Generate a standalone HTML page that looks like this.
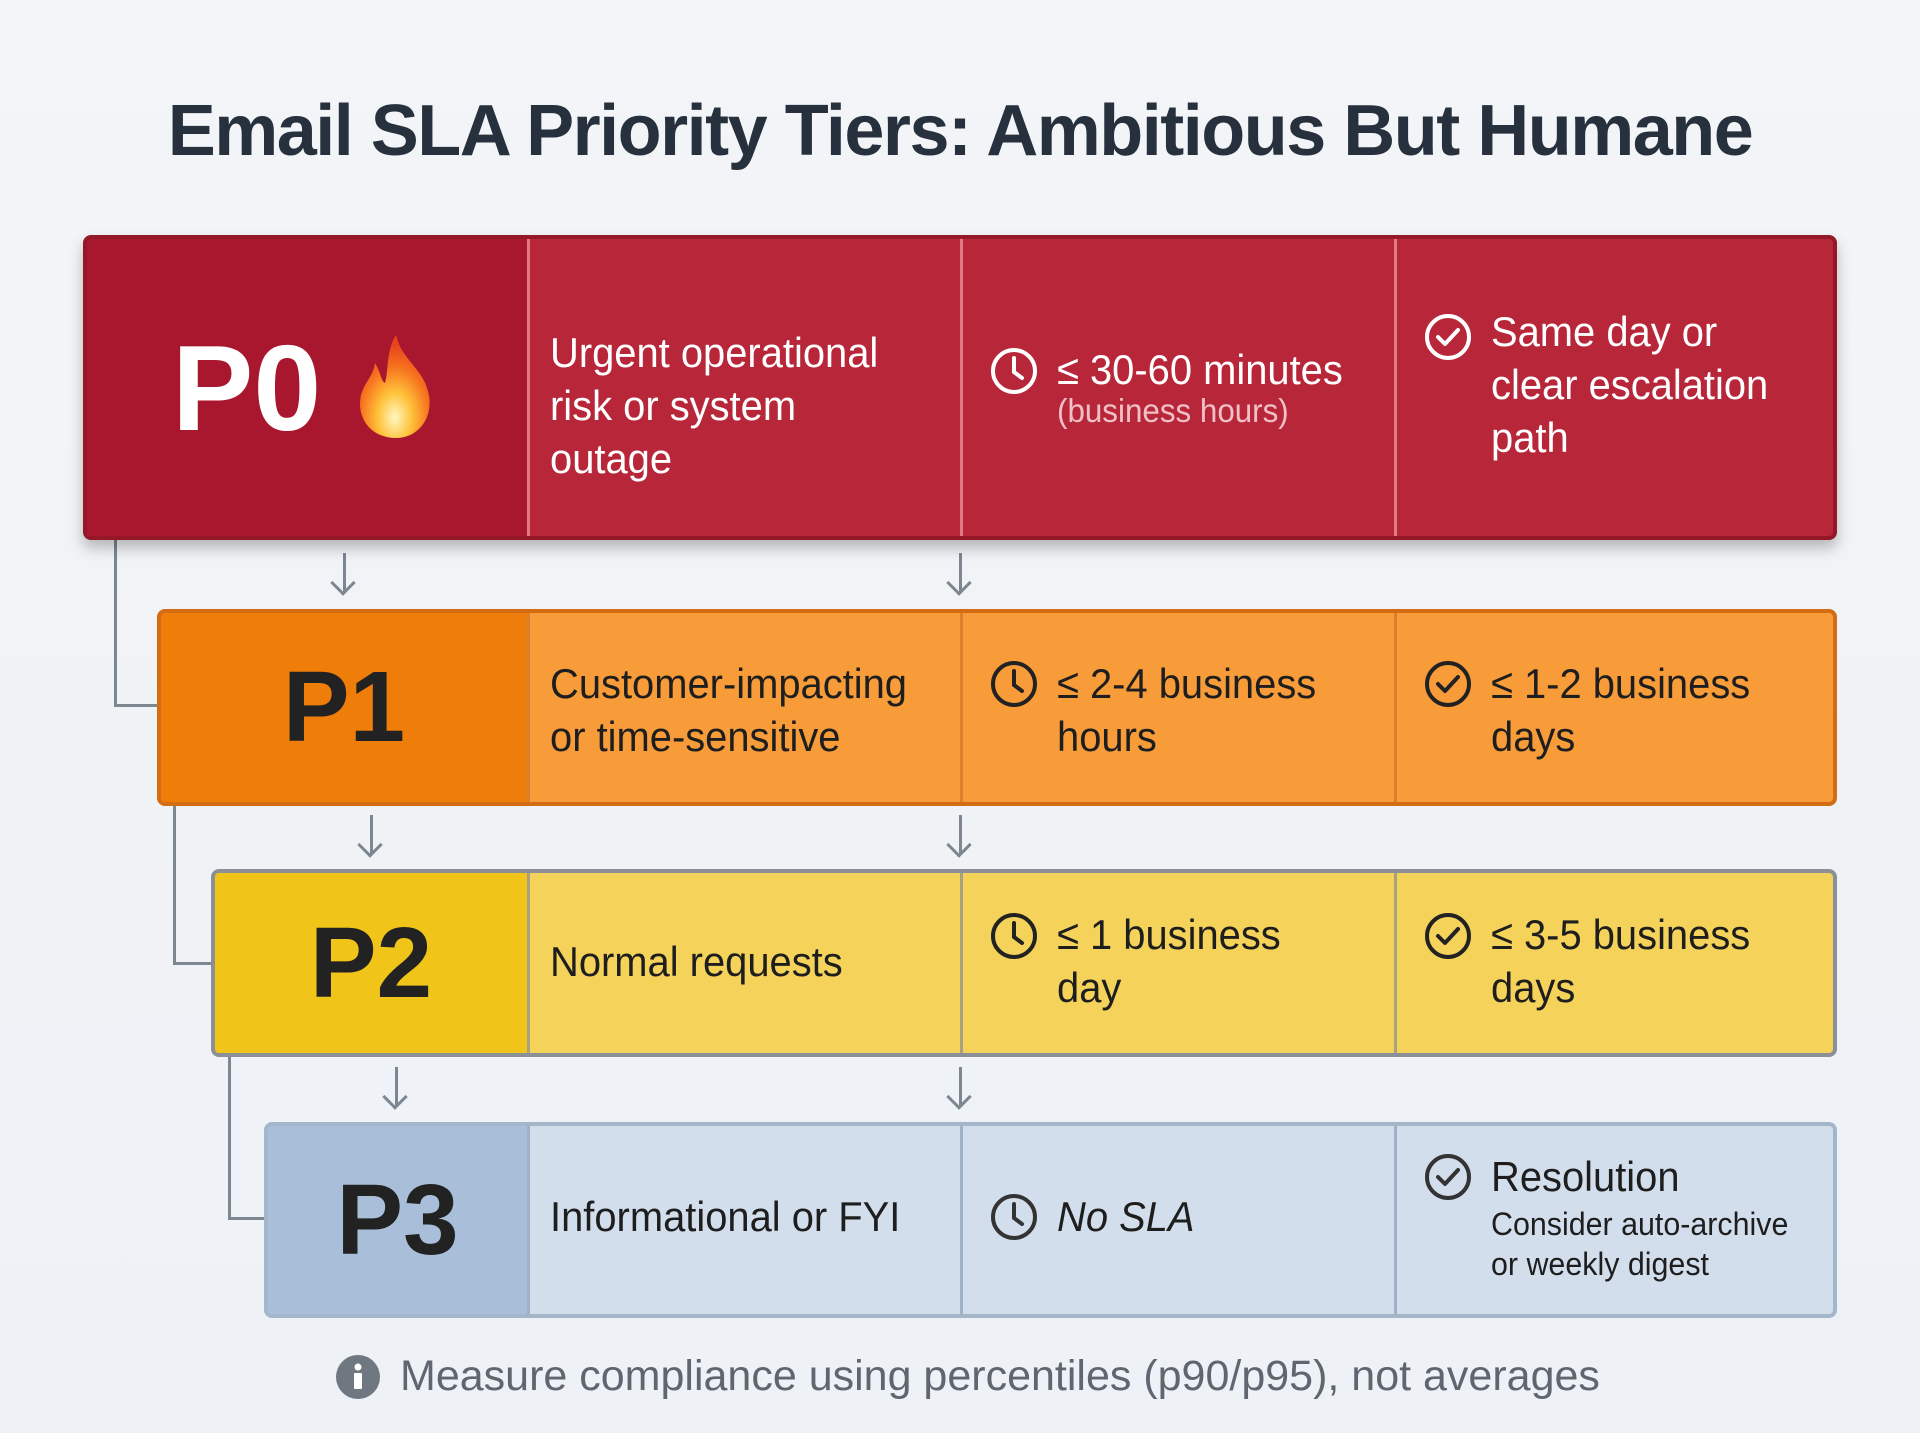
<!DOCTYPE html>
<html><head><meta charset="utf-8"><style>
*{margin:0;padding:0;box-sizing:border-box}
body{width:1920px;height:1433px;background:linear-gradient(180deg,#f3f5f8,#eef1f5);font-family:"Liberation Sans",sans-serif;position:relative;overflow:hidden}
.title{position:absolute;left:0;width:1920px;top:90px;text-align:center;font-size:72px;font-weight:bold;color:#27303d;letter-spacing:-1.5px}
.row{position:absolute;border-radius:8px;overflow:hidden;display:flex}
.c{position:relative;height:100%}
.lab{display:flex;align-items:center;justify-content:center;font-weight:bold}
.sep{border-left:3px solid}
.t{position:absolute;left:20px;font-size:42px;line-height:53px;transform:scaleX(0.95);transform-origin:left;white-space:nowrap}
.ic{position:absolute;width:50px;height:50px}
.line{position:absolute;background:#7c8791}
.arr{position:absolute;width:3px;height:40px;background:#7c8791}
.arr:after{content:"";position:absolute;left:-9px;bottom:0;width:15px;height:15px;border-right:3px solid #7c8791;border-bottom:3px solid #7c8791;transform:rotate(45deg);transform-origin:center;margin-bottom:1px}
</style></head><body>
<div class="title">Email SLA Priority Tiers: Ambitious But Humane</div>

<svg width="0" height="0" style="position:absolute"><defs>
<symbol id="clk" viewBox="0 0 50 50"><circle cx="25" cy="25" r="21" fill="none" stroke="currentColor" stroke-width="4"/><path d="M25 12V26L33 32" fill="none" stroke="currentColor" stroke-width="4" stroke-linecap="round"/></symbol>
<symbol id="chk" viewBox="0 0 50 50"><circle cx="25" cy="25" r="21" fill="none" stroke="currentColor" stroke-width="4"/><path d="M15 25L22 32L35 18" fill="none" stroke="currentColor" stroke-width="4" stroke-linecap="round" stroke-linejoin="round"/></symbol>
</defs></svg>

<div class="line" style="left:114px;top:540px;width:3px;height:167px"></div>
<div class="line" style="left:114px;top:704px;width:45px;height:3px"></div>
<div class="line" style="left:173px;top:806px;width:3px;height:159px"></div>
<div class="line" style="left:173px;top:962px;width:40px;height:3px"></div>
<div class="line" style="left:228px;top:1057px;width:3px;height:163px"></div>
<div class="line" style="left:228px;top:1217px;width:38px;height:3px"></div>
<div class="arr" style="left:343px;top:553px"></div>
<div class="arr" style="left:959px;top:553px"></div>
<div class="arr" style="left:370px;top:815px"></div>
<div class="arr" style="left:959px;top:815px"></div>
<div class="arr" style="left:395px;top:1067px"></div>
<div class="arr" style="left:959px;top:1067px"></div>

<div class="row" style="left:83px;top:235px;width:1754px;height:305px;background:#b8263a;border:4px solid #951828;box-shadow:0 8px 14px rgba(0,0,0,.25);color:#fff">
 <div class="c lab" style="width:440px;background:#a8172e;font-size:122px;color:#fff;justify-content:flex-start;padding-left:85px">P0
  <svg width="90" height="110" viewBox="0 0 90 110" style="margin-left:30px"><defs><radialGradient id="fg" cx="50%" cy="80%" r="70%"><stop offset="0" stop-color="#fff7c0"/><stop offset=".35" stop-color="#ffc23a"/><stop offset=".7" stop-color="#f7731e"/><stop offset="1" stop-color="#e8451c"/></radialGradient></defs><path d="M45 2C50 25 70 35 76 55C85 80 70 105 45 105C20 105 5 85 10 62C14 48 22 44 24 30C30 40 30 48 34 50C38 35 35 18 45 2Z" fill="url(#fg)"/></svg></div>
 <div class="c sep" style="width:433px;border-color:#e07a86"><div class="t" style="top:87px">Urgent operational<br>risk or system<br>outage</div></div>
 <div class="c sep" style="width:434px;border-color:#e07a86"><svg class="ic" style="left:26px;top:107px;color:#fff"><use href="#clk"/></svg><div class="t" style="left:94px;top:104px">≤ 30-60 minutes</div><div class="t" style="left:94px;top:152px;font-size:33px;line-height:40px;color:#f0c0c6">(business hours)</div></div>
 <div class="c sep" style="flex:1;border-color:#e07a86"><svg class="ic" style="left:26px;top:73px;color:#fff"><use href="#chk"/></svg><div class="t" style="left:94px;top:66px">Same day or<br>clear escalation<br>path</div></div>
</div>

<div class="row" style="left:157px;top:609px;width:1680px;height:197px;background:#f89c3a;border:4px solid #d26d14;color:#1e1e1e">
 <div class="c lab" style="width:366px;background:#ee7d0a;font-size:100px;color:#222">P1</div>
 <div class="c sep" style="width:433px;border-color:#d9802a"><div class="t" style="top:44px">Customer-impacting<br>or time-sensitive</div></div>
 <div class="c sep" style="width:434px;border-color:#d9802a"><svg class="ic" style="left:26px;top:46px;color:#222"><use href="#clk"/></svg><div class="t" style="left:94px;top:44px">≤ 2-4 business<br>hours</div></div>
 <div class="c sep" style="flex:1;border-color:#d9802a"><svg class="ic" style="left:26px;top:46px;color:#222"><use href="#chk"/></svg><div class="t" style="left:94px;top:44px">≤ 1-2 business<br>days</div></div>
</div>

<div class="row" style="left:211px;top:869px;width:1626px;height:188px;background:#f5d35a;border:4px solid #8a8f98;color:#1e1e1e">
 <div class="c lab" style="width:312px;background:#f0c419;font-size:100px;color:#222">P2</div>
 <div class="c sep" style="width:433px;border-color:#a8a283"><div class="t" style="top:62px">Normal requests</div></div>
 <div class="c sep" style="width:434px;border-color:#a8a283"><svg class="ic" style="left:26px;top:38px;color:#222"><use href="#clk"/></svg><div class="t" style="left:94px;top:35px">≤ 1 business<br>day</div></div>
 <div class="c sep" style="flex:1;border-color:#a8a283"><svg class="ic" style="left:26px;top:38px;color:#222"><use href="#chk"/></svg><div class="t" style="left:94px;top:35px">≤ 3-5 business<br>days</div></div>
</div>

<div class="row" style="left:264px;top:1122px;width:1573px;height:196px;background:#d3deed;border:4px solid #a5b6cb;color:#1e1e1e">
 <div class="c lab" style="width:259px;background:#a9bfd9;font-size:100px;color:#222">P3</div>
 <div class="c sep" style="width:433px;border-color:#9fb1c6"><div class="t" style="top:64px">Informational or FYI</div></div>
 <div class="c sep" style="width:434px;border-color:#9fb1c6"><svg class="ic" style="left:26px;top:66px;color:#333"><use href="#clk"/></svg><div class="t" style="left:94px;top:64px;font-style:italic">No SLA</div></div>
 <div class="c sep" style="flex:1;border-color:#9fb1c6"><svg class="ic" style="left:26px;top:26px;color:#333"><use href="#chk"/></svg><div class="t" style="left:94px;top:24px">Resolution</div><div class="t" style="left:94px;top:78px;font-size:32px;line-height:40px">Consider auto-archive<br>or weekly digest</div></div>
</div>

<svg style="position:absolute;left:335px;top:1354px" width="46" height="46" viewBox="0 0 46 46"><circle cx="23" cy="23" r="22" fill="#6f7780"/><circle cx="23" cy="13" r="3.5" fill="#fff"/><rect x="19" y="19" width="8" height="16" rx="1" fill="#fff"/></svg>
<div style="position:absolute;left:400px;top:1352px;font-size:43px;color:#5f6670;white-space:nowrap">Measure compliance using percentiles (p90/p95), not averages</div>
</body></html>
